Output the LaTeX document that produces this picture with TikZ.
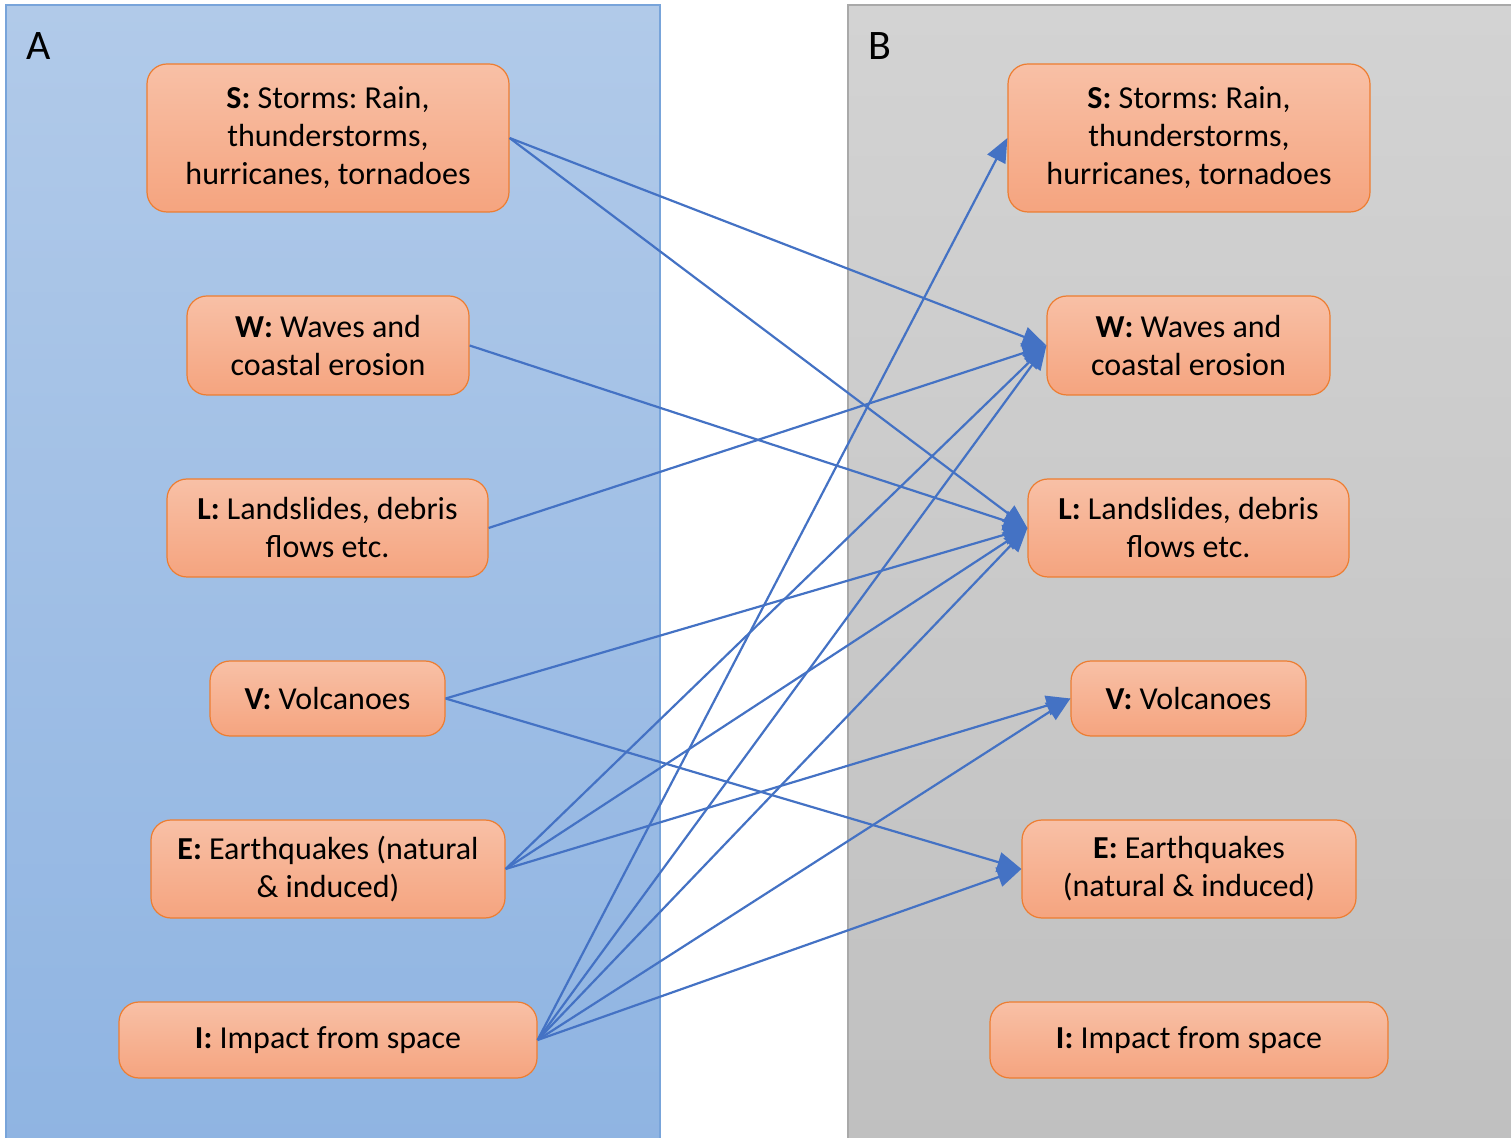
\documentclass[tikz,border=0pt]{standalone}
\usepackage{fontspec}
\setmainfont{Carlito}
\frenchspacing
\usetikzlibrary{arrows.meta,positioning}
\definecolor{panelblue}{HTML}{B1CAE9}
\definecolor{panelbluedark}{HTML}{8FB4E2}
\definecolor{panelblueline}{HTML}{78A4DA}
\definecolor{panelgray}{HTML}{D3D3D3}
\definecolor{panelgraydark}{HTML}{C0C0C0}
\definecolor{panelgrayline}{HTML}{A9A9A9}
\definecolor{hazardtop}{HTML}{F8C0A6}
\definecolor{hazardbot}{HTML}{F5A47F}
\definecolor{hazardline}{HTML}{ED7D31}
\definecolor{link}{HTML}{4472C4}
\tikzset{hazard/.style={draw=hazardline,line width=.6pt,rounded corners=10pt,top color=hazardtop,bottom color=hazardbot,align=center,font=\fontsize{16}{19}\selectfont,inner sep=2pt},
 panellabel/.style={font=\fontsize{21}{24}\selectfont,anchor=center},
 linkline/.style={draw=link,line width=1.1pt,-{Triangle[length=12pt,width=10pt]},shorten >=0pt}}

\begin{document}
\begin{tikzpicture}[x=0.5pt,y=-0.5pt]
\useasboundingbox (0,0) rectangle (1511,1138);
% the two panels
\draw[panelblueline,line width=.8pt,top color=panelblue,bottom color=panelbluedark] (6,5) rectangle (660,1150);
\draw[panelgrayline,line width=.8pt,top color=panelgray,bottom color=panelgraydark] (848,5) rectangle (1520,1150);
\node[panellabel] (pa) at (39,46) {A};
\node[panellabel] (pb) at (880,46) {B};
% hazards in A
\node[hazard,minimum width=181pt,minimum height=74pt] (sa) at (328,138) {\textbf{S:} Storms: Rain,\\thunderstorms,\\hurricanes, tornadoes};
\node[hazard,minimum width=141pt,minimum height=49.5pt] (wa) at (328,345.5) {\textbf{W:} Waves and\\coastal erosion};
\node[hazard,minimum width=160.5pt,minimum height=49pt] (la) at (327.5,528) {\textbf{L:} Landslides, debris\\flows etc.};
\node[hazard,minimum width=117.5pt,minimum height=37.5pt] (va) at (327.5,698.5) {\textbf{V:} Volcanoes};
\node[hazard,minimum width=177pt,minimum height=49pt] (ea) at (328,869) {\textbf{E:} Earthquakes (natural\\\& induced)};
\node[hazard,minimum width=209pt,minimum height=38pt] (ia) at (328,1040) {\textbf{I:} Impact from space};
% hazards in B
\node[hazard,minimum width=181pt,minimum height=74pt] (sb) at (1189,138) {\textbf{S:} Storms: Rain,\\thunderstorms,\\hurricanes, tornadoes};
\node[hazard,minimum width=141.5pt,minimum height=49.5pt] (wb) at (1188.5,345.5) {\textbf{W:} Waves and\\coastal erosion};
\node[hazard,minimum width=160.5pt,minimum height=49pt] (lb) at (1188.5,528) {\textbf{L:} Landslides, debris\\flows etc.};
\node[hazard,minimum width=117.5pt,minimum height=37.5pt] (vb) at (1188.5,698.5) {\textbf{V:} Volcanoes};
\node[hazard,minimum width=167pt,minimum height=49pt] (eb) at (1189,869) {\textbf{E:} Earthquakes\\(natural \& induced)};
\node[hazard,minimum width=199pt,minimum height=38pt] (ib) at (1189,1040) {\textbf{I:} Impact from space};
% which hazard triggers which
\foreach \src/\dst in {sa/wb,sa/lb,wa/lb,la/wb,va/lb,va/eb,ea/wb,ea/lb,ea/vb,ia/sb,ia/wb,ia/lb,ia/vb,ia/eb}
 \draw[linkline] (\src.east) -- (\dst.west);
\end{tikzpicture}
\end{document}
